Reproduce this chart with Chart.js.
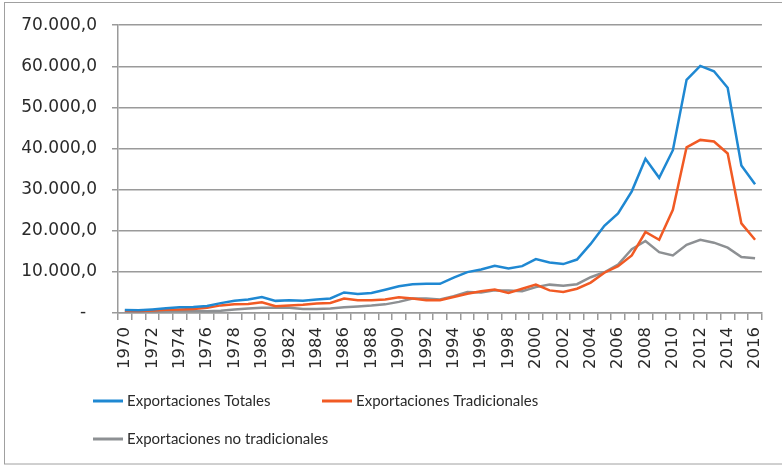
<!DOCTYPE html>
<html>
<head>
<meta charset="utf-8">
<script src="https://cdn.jsdelivr.net/npm/chart.js@4"></script>
<style>
  html, body { margin: 0; padding: 0; background: #fff; }
  #wrap { width: 782px; height: 466px; position: relative; }
</style>
</head>
<body>
<div id="wrap"><canvas id="chartCanvas" width="782" height="466"></canvas></div>
<script>
const years = [];
for (let y = 1970; y <= 2016; y++) years.push(String(y));

const totales = [700, 680, 880, 1150, 1400, 1450, 1700, 2400, 3000, 3300,
  3900, 2950, 3100, 3000, 3300, 3550, 5000, 4600, 4850, 5650,
  6500, 7000, 7100, 7100, 8600, 9950, 10600, 11500, 10800, 11400,
  13100, 12300, 11900, 13000, 16800, 21200, 24200, 29600, 37500, 32900,
  39600, 56700, 60100, 58800, 54800, 35900, 31300];

const tradicionales = [550, 500, 620, 780, 880, 980, 1250, 1850, 2100, 2200,
  2600, 1650, 1800, 2000, 2300, 2450, 3500, 3100, 3100, 3300,
  3800, 3500, 3100, 3100, 3900, 4700, 5300, 5700, 4900, 5900,
  6900, 5500, 5100, 5900, 7400, 9800, 11400, 14000, 19700, 17800,
  25100, 40300, 42100, 41700, 38800, 21800, 17800];

const noTradicionales = [150, 170, 250, 370, 520, 470, 450, 550, 850, 1100,
  1250, 1300, 1300, 1000, 1000, 1100, 1400, 1600, 1800, 2100,
  2700, 3500, 3500, 3300, 4100, 5100, 5000, 5500, 5500, 5300,
  6300, 6900, 6600, 7000, 8700, 9900, 11800, 15500, 17500, 14800,
  14000, 16600, 17800, 17100, 15900, 13600, 13300];

const yTicks = [0, 10000, 20000, 30000, 40000, 50000, 60000, 70000];

const gridColor = '#9a9a9a';
const textColor = '#2a2a2a';

function fmt(v) {
  if (v === 0) return '-  ';
  const s = String(Math.round(v)).replace(/\B(?=(\d{3})+(?!\d))/g, '.');
  return s + ',0';
}

// frame around the whole picture + a simple left-aligned legend
const framePlugin = {
  id: 'frame',
  beforeDraw(chart) {
    const c = chart.ctx;
    c.save();
    c.strokeStyle = '#a0a0a0';
    c.lineWidth = 1;
    c.strokeRect(4.5, 2.5, 800, 461.5);
    c.restore();
  },
  afterDraw(chart) {
    const c = chart.ctx;
    const spots = [[93, 401], [322, 401], [93, 439]];
    c.save();
    c.font = '15px Lato, sans-serif';
    c.textBaseline = 'middle';
    chart.data.datasets.forEach((ds, i) => {
      const [x, y] = spots[i];
      c.strokeStyle = ds.borderColor;
      c.lineWidth = 3;
      c.beginPath();
      c.moveTo(x, y);
      c.lineTo(x + 30, y);
      c.stroke();
      c.fillStyle = textColor;
      c.fillText(ds.label, x + 34, y);
    });
    c.restore();
  }
};

const myChart = new Chart(document.getElementById('chartCanvas'), {
  type: 'line',
  data: {
    labels: years,
    datasets: [
      { label: 'Exportaciones Totales', data: totales, borderColor: '#1f88d2' },
      { label: 'Exportaciones Tradicionales', data: tradicionales, borderColor: '#f15a24' },
      { label: 'Exportaciones no tradicionales', data: noTradicionales, borderColor: '#8d9093' }
    ]
  },
  options: {
    responsive: false,
    animation: false,
    layout: { padding: { left: 0, right: 12, top: 24, bottom: 0 } },
    elements: {
      line: { borderWidth: 2.5, tension: 0, fill: false },
      point: { radius: 0 }
    },
    plugins: {
      legend: { display: false },
      tooltip: { enabled: false }
    },
    scales: {
      x: {
        offset: true,
        afterFit(scale) { scale.height = 153; },
        grid: { offset: true, drawOnChartArea: false, drawTicks: true, tickLength: 7, color: gridColor, lineWidth: 1.5 },
        border: { color: gridColor, width: 1.5 },
        ticks: {
          autoSkip: false,
          minRotation: 90,
          maxRotation: 90,
          padding: 7,
          color: textColor,
          font: { family: 'DejaVu Sans', size: 16.5 },
          callback: (v, i) => (i % 2 === 0 ? years[i] : '')
        }
      },
      y: {
        min: 0,
        max: 70000,
        afterFit(scale) { scale.width = 118; },
        afterBuildTicks(scale) { scale.ticks = yTicks.map(v => ({ value: v })); },
        grid: { color: gridColor, lineWidth: 1.5, tickLength: 6 },
        border: { color: gridColor, width: 1.5 },
        ticks: {
          padding: 15,
          color: textColor,
          font: { family: 'DejaVu Sans', size: 17 },
          callback: v => fmt(v)
        }
      }
    }
  },
  plugins: [framePlugin]
});
</script>
</body>
</html>
